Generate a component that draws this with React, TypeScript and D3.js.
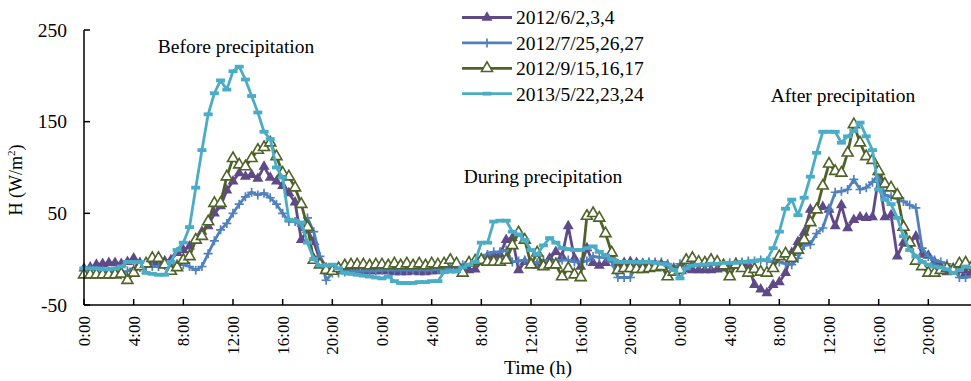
import React from 'react';
import * as d3 from 'd3';

// half-hourly samples over three days
const hours = d3.range(144).map((i) => i * 0.5);

const june = [
  -10, -9, -6, -5, -4, -4, -5, -3, 1, -4, -6, -3, -3, -2, -1, 7, 10, 14, 22, 30, 36, 50, 58, 75,
  85, 94, 90, 92, 88, 101, 89, 85, 80, 72, 62, 21, 32, 19, -1, -10, -12, -12, -12, -12, -13, -13, -13, -13,
  -13, -13, -14, -14, -14, -13, -14, -14, -13, -13, -12, -12, -12, -11, -12, -11, -3, 3, 4, 5, 21, 23, -12, -3,
  -6, -7, -5, 1, 8, 3, 36, 1, -8, 12, -4, -7, -4, 3, -6, -4, -3, -4, -5, -5, -6, -6, -7, -10,
  -10, -11, -12, -12, -12, -12, -11, -10, -8, -7, -6, -6, -28, -33, -37, -28, -25, -15, 7, 19, 29, 54, 55, 57,
  54, 36, 59, 34, 43, 46, 45, 46, 90, 46, 48, 3, 18, 18, 25, 5, 4, -3, -8, -14, -10, -12, -15, -14,
];

const july = [
  -10, -11, -12, -12, -13, -13, -17, -13, -10, -9, -8, -8, -8, -7, -7, -5, -6, -8, -12, -8, 6, 20, 32, 39,
  50, 60, 68, 73, 70, 72, 67, 60, 50, 41, 41, 36, 45, 30, 3, -23, -15, -15, -14, -13, -13, -13, -13, -13,
  -12, -12, -12, -12, -12, -12, -12, -12, -12, -11, -10, -9, -8, -6, -3, -2, 2, 5, 8, 8, 10, -3, -2, -1,
  -3, -4, -1, -2, -3, -1, -1, -3, -3, -2, 3, 2, 2, -3, -20, -20, -20, -6, -4, -3, -3, -3, -5, -10,
  -5, -4, -4, -5, -6, -6, -5, -5, -4, -3, -3, -2, -2, -1, -2, -3, -3, -5, -6, 1, 15, 16, 28, 34,
  54, 73, 74, 76, 87, 76, 78, 84, 92, 70, 68, 66, 63, 59, 56, 12, 3, -1, -3, -5, -10, -20, -20, -19,
];

const sept = [
  -17, -17, -17, -17, -17, -17, -16, -23, -15, -8, -5, 1, 1, -6, -13, -9, -1, 3, 21, 25, 41, 61, 61, 90,
  110, 103, 101, 110, 119, 122, 127, 112, 94, 90, 78, 60, 35, -1, -6, -12, -13, -10, -7, -6, -6, -6, -7, -6,
  -6, -7, -5, -7, -5, -7, -5, -7, -5, -6, -5, -1, -5, -15, -4, -2, -1, -3, -3, -3, -1, 15, 29, 21,
  -6, 7, -8, -6, -6, -19, -10, -17, -20, 47, 50, 45, 28, 7, -12, -10, -10, -11, -11, -10, -9, -8, -19, -14,
  -12, -1, 1, -3, -4, -1, -3, -7, -19, -6, -10, -15, -11, -14, -15, -10, 3, 6, 1, 10, 21, 40, 54, 80,
  104, 96, 94, 116, 147, 127, 112, 108, 96, 82, 78, 70, 35, 18, -2, -8, -15, -15, -12, -10, -12, -5, -4, -8,
];

const may = [
  -10, -10, -10, -11, -11, -10, -8, -3, -3, -3, -15, -16, -17, -17, -3, 10, 18, 35, 78, 119, 158, 181, 195, 185,
  205, 210, 196, 178, 160, 139, 131, 100, 89, 43, 42, 40, 18, 0, -7, -7, -6, -10, -15, -16, -17, -18, -19, -20,
  -21, -19, -24, -26, -26, -26, -25, -25, -24, -24, -14, -13, -13, -9, -6, -3, 18, 18, 41, 42, 42, 30, 27, 21,
  10, 5, 15, 23, 18, 12, 11, 10, 10, 12, 14, 8, 4, 0, -3, -3, -3, -3, -3, -3, -4, -5, -6, -12,
  -21, -10, -7, -6, -6, -5, -5, -4, -4, -4, -3, -3, -2, -1, -1, 12, 30, 55, 65, 48, 67, 90, 116, 139,
  139, 139, 127, 134, 140, 149, 134, 119, 76, 65, 60, 45, 25, 10, 3, -3, -6, -8, -9, -11, -15, -12, -8, -9,
];

const seriesNames = ['2012/6/2,3,4', '2012/7/25,26,27', '2012/9/15,16,17', '2013/5/22,23,24'];
const seriesColors = ['#5f4a87', '#4f81bd', '#4f6228', '#4bacc6'];
const seriesMarkers = ['triFill', 'plus', 'triOpen', 'dash'];
const seriesValues = [june, july, sept, may];

const yTicks = [-50, 50, 150, 250];
const xTicks = d3.range(0, 72, 4);

const W = 971;
const H = 381;
const font = '"Liberation Serif", "Times New Roman", serif';

const x = d3.scaleLinear().domain([0, 72]).range([84, 978]);
const y = d3.scaleLinear().domain([-50, 250]).range([305, 30]);

const triPath = d3.symbol().type(d3.symbolTriangle).size(52)() || '';

const Marker = ({ kind, color, cx, cy }: { kind: string; color: string; cx: number; cy: number }) => {
  const t = `translate(${cx},${cy})`;
  if (kind === 'triFill') return <path d={triPath} transform={t} fill={color} />;
  if (kind === 'triOpen')
    return <path d={triPath} transform={t} fill="#fff" stroke={color} strokeWidth={1.6} />;
  if (kind === 'plus')
    return <path d="M-4.5,0H4.5M0,-4.5V4.5" transform={t} stroke={color} strokeWidth={1.7} fill="none" />;
  return <path d="M-4.5,0H4.5" transform={t} stroke={color} strokeWidth={3.8} fill="none" />;
};

const App = () => {
  const line = d3
    .line<number>()
    .x((_, i) => x(hours[i]))
    .y((d) => y(d));

  return (
    <svg
      width={W}
      height={H}
      style={{ position: 'absolute', left: 0, top: 0, background: '#fff' }}
      fontFamily={font}
    >
      {/* series */}
      {seriesValues.map((vals, s) => (
        <g key={s}>
          <path d={line(vals) || ''} fill="none" stroke={seriesColors[s]} strokeWidth={2.8} strokeLinejoin="round" />
          {vals.map((v, i) => (
            <Marker key={i} kind={seriesMarkers[s]} color={seriesColors[s]} cx={x(hours[i])} cy={y(v)} />
          ))}
        </g>
      ))}

      {/* y axis */}
      <line x1={84} x2={84} y1={y(250)} y2={y(-50)} stroke="#000" strokeWidth={1.5} />
      {yTicks.map((t) => (
        <g key={t}>
          <line x1={84} x2={90} y1={y(t)} y2={y(t)} stroke="#000" strokeWidth={1.5} />
          <text x={67} y={y(t)} dy="0.35em" textAnchor="end" fontSize={19.5}>
            {t}
          </text>
        </g>
      ))}
      <text transform="translate(22,180) rotate(-90)" textAnchor="middle" fontSize={18}>
        H (W/m<tspan dy={-7} fontSize={11}>2</tspan>
        <tspan dy={7}>)</tspan>
      </text>

      {/* x axis */}
      <line x1={84} x2={W} y1={305} y2={305} stroke="#000" strokeWidth={1.5} />
      {xTicks.map((t) => (
        <g key={t}>
          <line x1={x(t)} x2={x(t)} y1={305} y2={299} stroke="#000" strokeWidth={1.5} />
          <text
            transform={`translate(${x(t)},316) rotate(-90)`}
            dy="0.35em"
            textAnchor="end"
            fontSize={17}
          >
            {`${t % 24}:00`}
          </text>
        </g>
      ))}
      <text x={538} y={374} textAnchor="middle" fontSize={19.5}>
        Time (h)
      </text>

      {/* annotations */}
      <text x={236} y={53} textAnchor="middle" fontSize={19.5}>
        Before precipitation
      </text>
      <text x={543} y={183} textAnchor="middle" fontSize={19.5}>
        During precipitation
      </text>
      <text x={843} y={102} textAnchor="middle" fontSize={19.5}>
        After precipitation
      </text>

      {/* legend */}
      {seriesNames.map((name, s) => {
        const ly = 17.5 + s * 25.4;
        return (
          <g key={name}>
            <line x1={462} x2={512} y1={ly} y2={ly} stroke={seriesColors[s]} strokeWidth={2.8} />
            <Marker kind={seriesMarkers[s]} color={seriesColors[s]} cx={487} cy={ly} />
            <text x={516} y={ly} dy="0.35em" fontSize={19.5}>
              {name}
            </text>
          </g>
        );
      })}
    </svg>
  );
};

export default App;
